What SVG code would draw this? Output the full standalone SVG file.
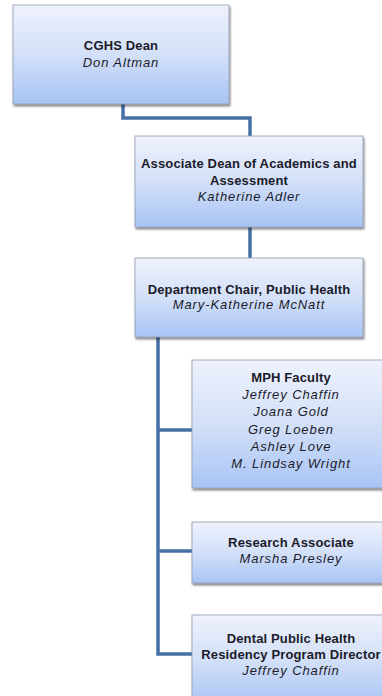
<svg xmlns="http://www.w3.org/2000/svg" width="382" height="696" viewBox="0 0 382 696">
<defs>
<linearGradient id="g" x1="0" y1="0" x2="0" y2="1">
<stop offset="0" stop-color="#eef2fc"/>
<stop offset="0.5" stop-color="#d3e0f8"/>
<stop offset="1" stop-color="#a8c4f5"/>
</linearGradient>
<filter id="sh" x="-5%" y="-5%" width="115%" height="120%">
<feGaussianBlur in="SourceAlpha" stdDeviation="1"/>
<feOffset dx="0.5" dy="1.5" result="o"/>
<feComponentTransfer><feFuncA type="linear" slope="0.5"/></feComponentTransfer>
<feMerge><feMergeNode/><feMergeNode in="SourceGraphic"/></feMerge>
</filter>
</defs>
<style>
.box{fill:url(#g);stroke:#8f9bb0;stroke-width:0.8;filter:url(#sh)}
.t{font-family:"Liberation Sans",Arial,sans-serif;font-size:13px;fill:#1b1b2a;text-anchor:middle}
.b{font-weight:bold;letter-spacing:0.15px}
.i{font-style:italic;letter-spacing:0.9px}
.c{fill:none;stroke:#4670a6;stroke-width:3.5}
</style>
<rect width="382" height="696" fill="#ffffff"/>
<g id="connectors">
<polyline class="c" points="123,104 123,118 250,118 250,136"/>
<line class="c" x1="250" y1="227" x2="250" y2="258"/>
<polyline class="c" points="158,337 158,654 192,654"/>
<line class="c" x1="158" y1="430" x2="192" y2="430"/>
<line class="c" x1="158" y1="551" x2="192" y2="551"/>
</g>
<g id="dean">
<rect class="box" x="13" y="5" width="216" height="99"/>
<text class="t b" x="121" y="50">CGHS Dean</text>
<text class="t i" x="121" y="67">Don Altman</text>
</g>
<g id="assoc-dean">
<rect class="box" x="135" y="136" width="228" height="91"/>
<text class="t b" x="249" y="168">Associate Dean of Academics and</text>
<text class="t b" x="249" y="185">Assessment</text>
<text class="t i" x="249" y="201">Katherine Adler</text>
</g>
<g id="dept-chair">
<rect class="box" x="135" y="258" width="228" height="79"/>
<text class="t b" x="249" y="294">Department Chair, Public Health</text>
<text class="t i" x="249" y="309">Mary-Katherine McNatt</text>
</g>
<g id="mph-faculty">
<rect class="box" x="192" y="360" width="200" height="128"/>
<text class="t b" x="291" y="382">MPH Faculty</text>
<text class="t i" x="291" y="399">Jeffrey Chaffin</text>
<text class="t i" x="291" y="416">Joana Gold</text>
<text class="t i" x="291" y="434">Greg Loeben</text>
<text class="t i" x="291" y="451">Ashley Love</text>
<text class="t i" x="291" y="468">M. Lindsay Wright</text>
</g>
<g id="research-associate">
<rect class="box" x="192" y="522" width="200" height="61"/>
<text class="t b" x="291" y="547">Research Associate</text>
<text class="t i" x="291" y="563">Marsha  Presley</text>
</g>
<g id="dental">
<rect class="box" x="192" y="615" width="200" height="90"/>
<text class="t b" x="291" y="643">Dental Public Health</text>
<text class="t b" x="291" y="659">Residency Program Director</text>
<text class="t i" x="291" y="675">Jeffrey Chaffin</text>
</g>
</svg>
